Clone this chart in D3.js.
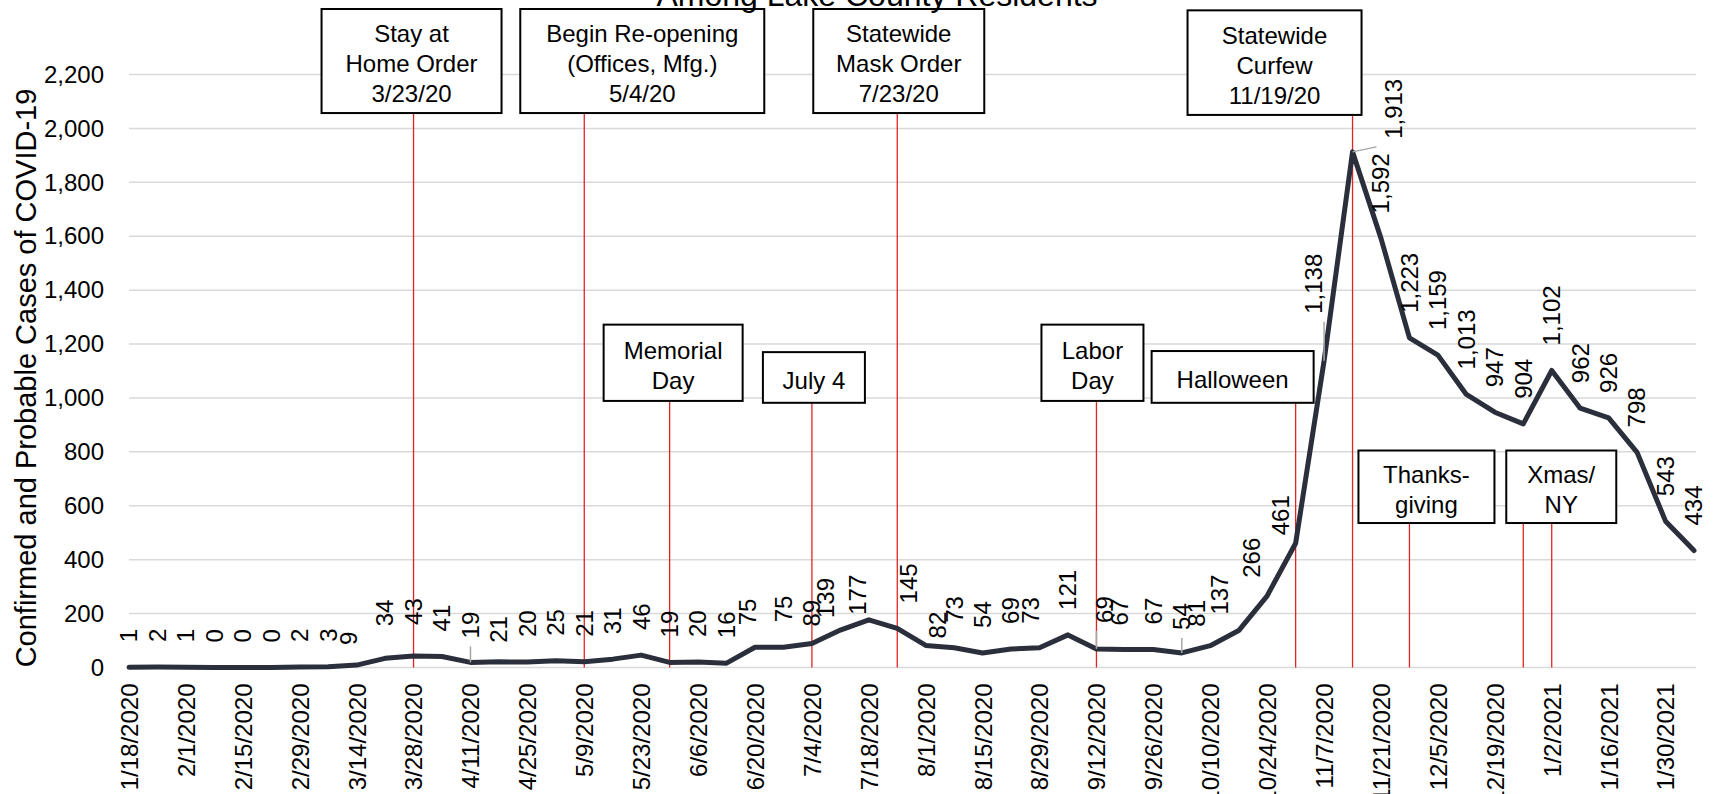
<!DOCTYPE html>
<html>
<head>
<meta charset="utf-8">
<script src="https://cdn.jsdelivr.net/npm/d3@7"></script>
<style>
  html, body { margin: 0; padding: 0; background: #fff; }
  svg { display: block; font-family: "Liberation Sans", Arial, sans-serif; }
</style>
</head>
<body>
<svg id="chart" width="1719" height="794"></svg>
<script>
// Weekly categories (week ending)
const weeks = [
    '1/18/2020', '1/25/2020', '2/1/2020', '2/8/2020', '2/15/2020', '2/22/2020', '2/29/2020', '3/7/2020',
    '3/14/2020', '3/21/2020', '3/28/2020', '4/4/2020', '4/11/2020', '4/18/2020', '4/25/2020', '5/2/2020',
    '5/9/2020', '5/16/2020', '5/23/2020', '5/30/2020', '6/6/2020', '6/13/2020', '6/20/2020', '6/27/2020',
    '7/4/2020', '7/11/2020', '7/18/2020', '7/25/2020', '8/1/2020', '8/8/2020', '8/15/2020', '8/22/2020',
    '8/29/2020', '9/5/2020', '9/12/2020', '9/19/2020', '9/26/2020', '10/3/2020', '10/10/2020', '10/17/2020',
    '10/24/2020', '10/31/2020', '11/7/2020', '11/14/2020', '11/21/2020', '11/28/2020', '12/5/2020', '12/12/2020',
    '12/19/2020', '12/26/2020', '1/2/2021', '1/9/2021', '1/16/2021', '1/23/2021', '1/30/2021', '2/6/2021'
];

// Confirmed and probable cases per week
const cases = [
    1, 2, 1, 0, 0, 0, 2, 3, 9, 34,
    43, 41, 19, 21, 20, 25, 21, 31, 46, 19,
    20, 16, 75, 75, 89, 139, 177, 145, 82, 73,
    54, 69, 73, 121, 69, 67, 67, 54, 81, 137,
    266, 461, 1138, 1913, 1592, 1223, 1159, 1013, 947, 904,
    1102, 962, 926, 798, 543, 434
];

// Every other week gets a tick label
const tickWeeks = weeks.filter((w, i) => i % 2 === 0);
const yTicks = [0, 200, 400, 600, 800, 1000, 1200, 1400, 1600, 1800, 2000, 2200];

// Event annotations
const events = [
    { weeks: ['3/28/2020'], lines: ['Stay at', 'Home Order', '3/23/20'] },
    { weeks: ['5/9/2020'], lines: ['Begin Re-opening', '(Offices, Mfg.)', '5/4/20'] },
    { weeks: ['7/25/2020'], lines: ['Statewide', 'Mask Order', '7/23/20'] },
    { weeks: ['11/14/2020'], lines: ['Statewide', 'Curfew', '11/19/20'] },
    { weeks: ['5/30/2020'], lines: ['Memorial', 'Day'] },
    { weeks: ['7/4/2020'], lines: ['July 4'] },
    { weeks: ['9/12/2020'], lines: ['Labor', 'Day'] },
    { weeks: ['10/31/2020'], lines: ['Halloween'] },
    { weeks: ['11/28/2020'], lines: ['Thanks-', 'giving'] },
    { weeks: ['12/26/2020', '1/2/2021'], lines: ['Xmas/', 'NY'] }
];

// Box placement: [left offset from first line px, width px, top value, bottom value]
const boxLayout = [
    [-92, 180, 2443, 2057],
    [-64, 244, 2443, 2057],
    [-84, 171, 2443, 2057],
    [-165, 174, 2438, 2050],
    [-66, 139, 1272, 989],
    [-49, 102, 1170, 982],
    [-55, 102, 1272, 989],
    [-144, 162, 1174, 982],
    [-51, 136, 805, 536],
    [-17, 110, 805, 536]
];

// Label adjustments for crowded points: index -> [dx, gap, leader]
const labelNudge = {
    8: [-8, 20], 9: [0, 32], 10: [0, 31], 12: [0, 24, true], 13: [0, 19],
    22: [-7, 22], 24: [0, 17], 25: [-15, 12], 26: [-11, 5], 27: [11, 25], 28: [12, 7],
    32: [-9, 24], 34: [8, 26, true], 35: [-5, 24], 37: [0, 23, true],
    38: [-14, 19], 39: [-19, 16], 40: [-16, 18], 41: [-15, 8],
    42: [-10, 47, true], 43: [41, 13, true]
};

const svg = d3.select('#chart');
const left = 129, right = 1694, gridRight = 1696;

const x = d3.scalePoint().domain(weeks).range([left, right]);
const y = d3.scaleLinear().domain([0, 2200]).range([667.5, 74.5]);

// Gridlines
svg.append('g')
    .selectAll('line')
    .data(yTicks)
    .enter()
    .append('line')
    .attr('x1', left)
    .attr('x2', gridRight)
    .attr('y1', d => y(d))
    .attr('y2', d => y(d))
    .attr('stroke', '#d9d9d9')
    .attr('stroke-width', 1.5);

// Y axis
const yAxis = svg.append('g')
    .attr('transform', `translate(${left},0)`)
    .call(d3.axisLeft(y).tickValues(yTicks).tickSize(0).tickPadding(25).tickFormat(d3.format(',')));
yAxis.select('.domain').remove();
yAxis.selectAll('text')
    .attr('font-size', 24)
    .attr('fill', '#000')
    .attr('font-family', '"Liberation Sans", Arial, sans-serif');

// X axis
const xAxis = svg.append('g')
    .attr('transform', `translate(0,${y(0)})`)
    .call(d3.axisBottom(x).tickValues(tickWeeks).tickSize(0));
xAxis.select('.domain').remove();
xAxis.selectAll('text')
    .attr('font-size', 24)
    .attr('fill', '#000')
    .attr('font-family', '"Liberation Sans", Arial, sans-serif')
    .attr('text-anchor', 'end')
    .attr('transform', 'translate(0,16) rotate(-90)')
    .attr('x', 0)
    .attr('y', 0)
    .attr('dy', '0.35em');

// Event lines and boxes
const ann = svg.append('g');
events.forEach((ev, i) => {
    const [dx, w, topV, botV] = boxLayout[i];
    const bx = x(ev.weeks[0]) + dx;
    const by = y(topV);
    const bh = y(botV) - y(topV);

    ev.weeks.forEach(wk => {
        ann.append('line')
            .attr('x1', x(wk))
            .attr('x2', x(wk))
            .attr('y1', y(botV))
            .attr('y2', y(0))
            .attr('stroke', '#e02424')
            .attr('stroke-width', 1.3);
    });

    ann.append('rect')
        .attr('x', bx)
        .attr('y', by)
        .attr('width', w)
        .attr('height', bh)
        .attr('fill', '#fff')
        .attr('stroke', '#000')
        .attr('stroke-width', 2);

    const lh = 30;
    const cy = by + bh / 2 + 3 - (ev.lines.length - 1) * lh / 2;
    ev.lines.forEach((t, k) => {
        ann.append('text')
            .attr('x', bx + w / 2)
            .attr('y', cy + k * lh)
            .attr('dy', '0.35em')
            .attr('text-anchor', 'middle')
            .attr('font-size', 24)
            .attr('fill', '#000')
            .text(t);
    });
});

// Cases line
const line = d3.line()
    .x((d, i) => x(weeks[i]))
    .y(d => y(d));

svg.append('path')
    .datum(cases)
    .attr('fill', 'none')
    .attr('stroke', '#2b2f3b')
    .attr('stroke-width', 5)
    .attr('stroke-linejoin', 'round')
    .attr('stroke-linecap', 'round')
    .attr('d', line);

// Data labels
const fmt = d3.format(',');
const labels = svg.append('g');
cases.forEach((v, i) => {
    const nudge = labelNudge[i] || [0, 25];
    const px = x(weeks[i]);
    const py = y(v);
    const lx = px + nudge[0];
    const ly = py - nudge[1];

    const t = labels.append('text')
        .attr('transform', `translate(${lx},${ly}) rotate(-90)`)
        .attr('dy', '0.35em')
        .attr('text-anchor', 'start')
        .attr('font-size', 24)
        .attr('fill', '#000')
        .text(fmt(v));

    if (nudge[2]) {
        const len = t.node().getComputedTextLength();
        const pad = 8;
        const bx0 = lx - 9 - pad, bx1 = lx + 9 + pad;
        const by0 = ly - len - pad, by1 = ly + pad;
        const ex = Math.max(bx0, Math.min(px, bx1));
        const ey = Math.max(by0, Math.min(py, by1));
        labels.append('line')
            .attr('x1', px)
            .attr('y1', py)
            .attr('x2', ex)
            .attr('y2', ey)
            .attr('stroke', '#a6a6a6')
            .attr('stroke-width', 1.5);
    }
});

// Titles
svg.append('text')
    .attr('x', 877)
    .attr('y', 6)
    .attr('text-anchor', 'middle')
    .attr('font-size', 32)
    .attr('fill', '#000')
    .text('Among Lake County Residents');

svg.append('text')
    .attr('transform', 'translate(26,378) rotate(-90)')
    .attr('dy', '0.35em')
    .attr('text-anchor', 'middle')
    .attr('font-size', 29)
    .attr('fill', '#000')
    .text('Confirmed and Probable Cases of COVID-19');
</script>
</body>
</html>
